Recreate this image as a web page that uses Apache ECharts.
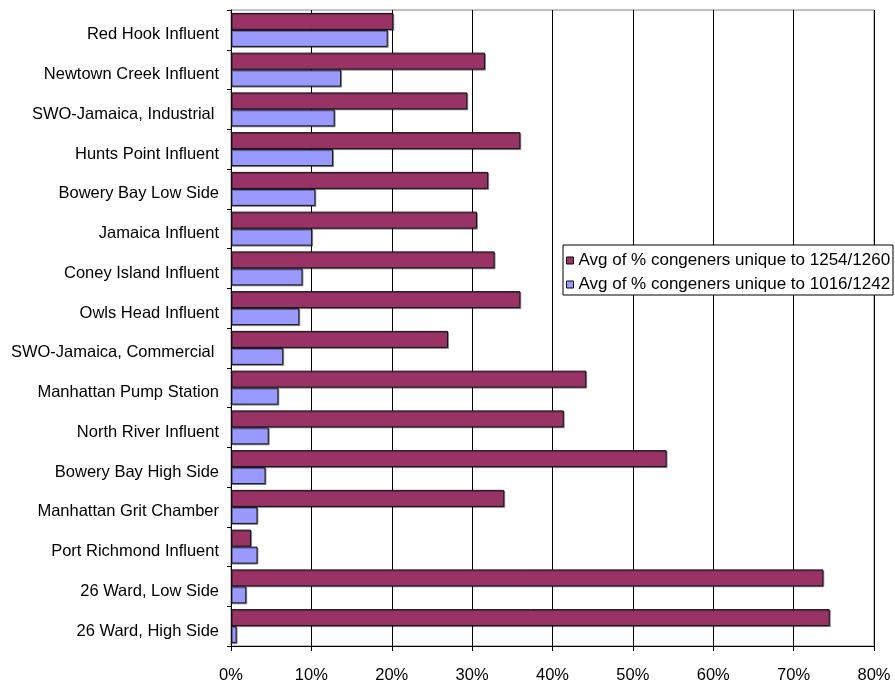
<!DOCTYPE html>
<html>
<head>
<meta charset="utf-8">
<script src="https://cdn.jsdelivr.net/npm/echarts@6/dist/echarts.min.js"></script>
<style>
html,body{margin:0;padding:0;background:#fff;}
#chart{width:895px;height:681px;}
</style>
</head>
<body>
<div id="chart"></div>
<script>
var categories = [
  "Red Hook Influent",
  "Newtown Creek Influent",
  "SWO-Jamaica, Industrial ",
  "Hunts Point Influent",
  "Bowery Bay Low Side",
  "Jamaica Influent",
  "Coney Island Influent",
  "Owls Head Influent",
  "SWO-Jamaica, Commercial ",
  "Manhattan Pump Station",
  "North River Influent",
  "Bowery Bay High Side",
  "Manhattan Grit Chamber",
  "Port Richmond Influent",
  "26 Ward, Low Side",
  "26 Ward, High Side"
];
var seriesNames = [
  "Avg of % congeners unique to 1254/1260",
  "Avg of % congeners unique to 1016/1242"
];
var values1254 = [20.2, 31.6, 29.4, 36.0, 32.0, 30.6, 32.8, 36.0, 27.0, 44.2, 41.4, 54.2, 34.0, 2.5, 73.7, 74.5];
var values1016 = [19.5, 13.7, 12.9, 12.7, 10.5, 10.1, 8.9, 8.5, 6.5, 5.9, 4.7, 4.3, 3.3, 3.3, 1.9, 0.7];
var xTicks = [0, 10, 20, 30, 40, 50, 60, 70, 80];

var chart = echarts.init(document.getElementById('chart'));
var font = 'Liberation Sans, Arial, sans-serif';
var barStyle = function(color){
  return {
    color: color,
    borderColor: '#111',
    borderWidth: 1,
    shadowColor: 'rgba(0,0,0,0.35)',
    shadowOffsetX: 1,
    shadowOffsetY: 1,
    shadowBlur: 0
  };
};
chart.setOption({
  animation: false,
  grid: {
    left: 231, right: 21, top: 10, bottom: 35,
    outerBoundsMode: 'none',
    containLabel: false,
    show: true, borderColor: '#808080', borderWidth: 1
  },
  xAxis: {
    type: 'value',
    min: xTicks[0],
    max: xTicks[xTicks.length - 1],
    interval: 10,
    axisLine: {show: true, lineStyle: {color: '#000', width: 1}},
    axisTick: {show: true, length: 5, lineStyle: {color: '#000'}},
    axisLabel: {
      formatter: function(v){ return v + '%'; },
      fontFamily: font, fontSize: 16.5, color: '#000', margin: 21
    },
    splitLine: {show: true, lineStyle: {color: '#000', width: 1}}
  },
  yAxis: {
    type: 'category',
    data: categories,
    inverse: true,
    axisLine: {show: true, lineStyle: {color: '#000', width: 1}},
    axisTick: {show: true, length: 4, lineStyle: {color: '#000'}},
    axisLabel: {
      fontFamily: font, fontSize: 16.5, color: '#000', margin: 12,
      verticalAlign: 'top', lineHeight: 10
    },
    splitLine: {show: false}
  },
  legend: {
    orient: 'vertical',
    left: 566,
    top: 252,
    padding: 0,
    itemGap: 7,
    itemWidth: 7,
    itemHeight: 7,
    icon: 'rect',
    z: 10,
    textStyle: {fontFamily: font, fontSize: 17, color: '#000'},
    data: [
      {name: seriesNames[0], itemStyle: {color: '#993366', borderColor: '#000', borderWidth: 1}},
      {name: seriesNames[1], itemStyle: {color: '#9999FF', borderColor: '#000', borderWidth: 1}}
    ]
  },
  graphic: [{
    type: 'rect',
    z: 9,
    shape: {x: 563, y: 245, width: 330, height: 50},
    style: {fill: '#fff', stroke: '#000', lineWidth: 1}
  }],
  series: [
    {
      name: seriesNames[0], type: 'bar', data: values1254,
      barWidth: 17, barGap: '0%',
      itemStyle: barStyle('#993366')
    },
    {
      name: seriesNames[1], type: 'bar', data: values1016,
      barWidth: 17, barGap: '0%',
      itemStyle: barStyle('#9999FF')
    }
  ]
});
</script>
</body>
</html>
